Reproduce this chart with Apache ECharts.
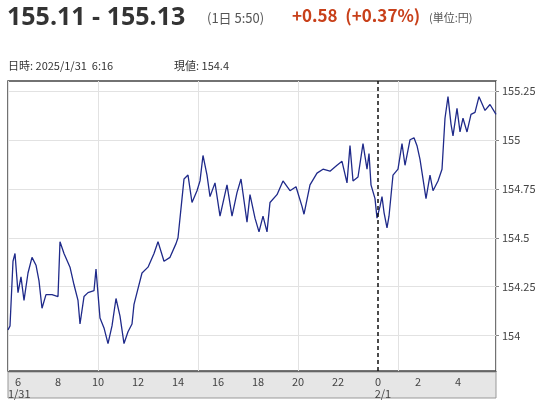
<!DOCTYPE html>
<html><head><meta charset="utf-8">
<script src="https://cdn.jsdelivr.net/npm/echarts@6/dist/echarts.min.js"></script>
<style>html,body{margin:0;background:#fff}#c{width:548px;height:400px}</style>
</head><body><div id="c"></div>
<script>
// hours from 0:00 on 1/31
const hours = [5.5,5.6,5.75,5.85,6.0,6.15,6.3,6.5,6.7,6.9,7.05,7.2,7.4,7.7,8.0,8.1,8.3,8.6,8.8,9.0,9.1,9.3,9.5,9.8,9.9,10.1,10.3,10.5,10.7,10.9,11.1,11.3,11.5,11.7,11.8,12.0,12.2,12.5,12.8,13.0,13.3,13.6,13.9,14.0,14.2,14.3,14.5,14.7,14.95,15.1,15.25,15.45,15.6,15.85,16.1,16.45,16.7,16.95,17.15,17.45,17.6,17.85,18.05,18.25,18.45,18.6,18.95,19.25,19.6,19.9,20.2,20.3,20.6,20.95,21.25,21.6,21.95,22.2,22.45,22.6,22.75,22.85,23.0,23.25,23.45,23.55,23.65,23.85,23.95,24.1,24.2,24.3,24.45,24.55,24.75,25.0,25.2,25.35,25.6,25.8,25.95,26.1,26.25,26.4,26.6,26.75,27.0,27.2,27.35,27.5,27.65,27.75,27.95,28.1,28.25,28.45,28.65,28.85,29.05,29.35,29.6,29.9];
const prices = [154.03,154.05,154.38,154.42,154.22,154.30,154.18,154.32,154.40,154.36,154.28,154.14,154.21,154.21,154.20,154.48,154.42,154.35,154.26,154.18,154.06,154.20,154.22,154.23,154.34,154.09,154.04,153.96,154.05,154.19,154.10,153.96,154.02,154.06,154.16,154.24,154.32,154.35,154.42,154.48,154.38,154.40,154.47,154.50,154.70,154.80,154.82,154.68,154.74,154.79,154.92,154.82,154.71,154.78,154.61,154.77,154.61,154.73,154.80,154.58,154.72,154.60,154.53,154.61,154.53,154.68,154.72,154.79,154.74,154.76,154.66,154.62,154.77,154.83,154.85,154.84,154.87,154.89,154.78,154.97,154.79,154.79,154.81,154.98,154.85,154.93,154.77,154.70,154.60,154.66,154.71,154.63,154.55,154.61,154.82,154.85,154.98,154.87,155.00,155.01,154.97,154.90,154.80,154.70,154.82,154.74,154.79,154.85,155.11,155.22,155.08,155.02,155.16,155.04,155.11,155.04,155.13,155.14,155.22,155.15,155.18,155.13];
const xTicks = [6,8,10,12,14,16,18,20,22,24,26,28];
const yTicks = [154,154.25,154.5,154.75,155,155.25];

const chart = echarts.init(document.getElementById('c'));
const F = '"Noto Sans CJK JP","Noto Sans",sans-serif';
chart.setOption({
  animation: false,
  grid: { left: 8, right: 52, top: 81, bottom: 28, show: true, borderColor: '#444', borderWidth: 1.5 },
  graphic: [
    { type: 'rect', shape: { x: 8, y: 372, width: 488, height: 26 }, style: { fill: '#e6e6e6', stroke: '#999', lineWidth: 1 }, z: -1 },
    { type: 'text', left: 7, top: 5, style: { text: '155.11 - 155.13', font: 'bold 25px "Open Sans",sans-serif', fill: '#333' } },
    { type: 'text', left: 207, top: 12, style: { text: '(1日 5:50)', font: '13px ' + F, fill: '#555' } },
    { type: 'text', left: 292, top: 7, style: { text: '+0.58  (+0.37%)', font: 'bold 17px ' + F, fill: '#c8401a' } },
    { type: 'text', left: 429, top: 12, style: { text: '(単位:円)', font: '11px ' + F, fill: '#555' } },
    { type: 'text', left: 8, top: 60, style: { text: '日時: 2025/1/31  6:16', font: '11px ' + F, fill: '#333' } },
    { type: 'text', left: 174, top: 60, style: { text: '現値: 154.4', font: '11px ' + F, fill: '#333' } }
  ],
  xAxis: {
    type: 'value', min: 5.5, max: 29.9,
    axisLine: { show: false },
    axisTick: { show: false },
    splitLine: { show: true, lineStyle: { color: '#e2e2e2' }, customValues: xTicks },
    axisLabel: {
      customValues: xTicks, color: '#444', fontSize: 11, fontFamily: F, margin: 5, lineHeight: 12,
      formatter: v => { const h = v % 24; return v === 6 ? '6\n 1/31' : v === 24 ? '0\n    2/1' : String(h); }
    }
  },
  yAxis: {
    type: 'value', position: 'right', min: 153.82, max: 155.3,
    axisLine: { show: false },
    axisTick: { show: true, customValues: yTicks, length: 3, lineStyle: { color: '#888' } },
    splitLine: { show: true, lineStyle: { color: '#e2e2e2' }, customValues: yTicks },
    axisLabel: { customValues: yTicks, color: '#444', fontSize: 11, fontFamily: F, margin: 6, formatter: v => String(v) }
  },
  series: [{
    type: 'line', data: hours.map((h, i) => [h, prices[i]]), showSymbol: false,
    lineStyle: { color: '#1f2a8a', width: 1.3 },
    markLine: { silent: true, symbol: 'none', label: { show: false },
      lineStyle: { color: '#111', type: [4, 3], width: 1.5 }, data: [{ xAxis: 24 }] }
  }]
});
</script></body></html>
